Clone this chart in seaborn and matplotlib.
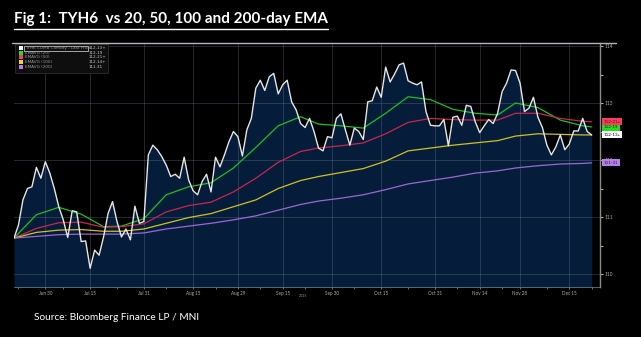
import numpy as np
import pandas as pd
import matplotlib
matplotlib.use("Agg")
import matplotlib.pyplot as plt
import seaborn as sns
from matplotlib.patches import Rectangle
from matplotlib.lines import Line2D

# ---------------- data ----------------
price = [110.63, 110.86, 111.30, 111.50, 111.53, 111.87, 111.68, 111.97, 111.77, 111.50,
         111.18, 110.95, 110.64, 111.11, 111.09, 110.57, 110.58, 110.10, 110.42, 110.33,
         110.65, 111.06, 111.27, 110.92, 110.65, 110.79, 110.60, 111.19, 110.89, 110.92,
         112.09, 112.26, 112.18, 112.06, 111.91, 111.71, 111.75, 111.68, 112.05, 111.65,
         111.46, 111.39, 111.62, 111.75, 111.44, 112.05, 111.88, 112.09, 112.32, 112.50,
         112.41, 112.07, 112.53, 112.73, 113.26, 113.40, 113.22, 113.46, 113.52, 113.16,
         113.32, 113.40, 113.02, 112.88, 112.64, 112.57, 112.73, 112.50, 112.21, 112.16,
         112.41, 112.39, 112.73, 112.81, 112.53, 112.26, 112.56, 112.50, 112.36, 113.02,
         113.04, 113.28, 113.10, 113.63, 113.37, 113.51, 113.67, 113.70, 113.39, 113.35,
         113.32, 113.37, 112.85, 112.61, 112.60, 112.60, 112.71, 112.25, 112.75, 112.77,
         112.61, 112.96, 112.94, 112.67, 112.48, 112.60, 112.71, 112.64, 112.82, 113.20,
         113.35, 113.58, 113.57, 113.35, 112.85, 112.91, 113.10, 112.75, 112.57, 112.26,
         112.09, 112.23, 112.44, 112.18, 112.28, 112.51, 112.51, 112.73, 112.50, 112.44]

holidays = ["2025-07-04", "2025-09-01", "2025-11-27"]
dates = [d for d in pd.bdate_range("2025-06-19", "2025-12-22")
         if d.strftime("%Y-%m-%d") not in holidays]

ema_idx = [0, 5, 10, 15, 20, 24, 29, 34, 39, 44, 49, 54, 59, 64, 68, 73, 78, 83,
           88, 93, 98, 103, 108, 112, 117, 122, 127, 129]
ema20 = [110.63, 111.04, 111.17, 111.05, 110.83, 110.84, 110.97, 111.39, 111.53, 111.60,
         111.86, 112.22, 112.60, 112.76, 112.63, 112.60, 112.56, 112.82, 113.11, 113.06,
         112.89, 112.82, 112.79, 113.00, 112.92, 112.70, 112.60, 112.58]
ema50 = [110.63, 110.80, 110.90, 110.91, 110.82, 110.83, 110.88, 111.09, 111.20, 111.26,
         111.44, 111.68, 111.96, 112.15, 112.21, 112.25, 112.30, 112.46, 112.66, 112.73,
         112.71, 112.70, 112.70, 112.82, 112.82, 112.73, 112.68, 112.67]
ema100 = [110.63, 110.73, 110.77, 110.78, 110.75, 110.75, 110.79, 110.89, 110.99, 111.06,
          111.18, 111.30, 111.50, 111.64, 111.71, 111.78, 111.85, 111.98, 112.16, 112.21,
          112.26, 112.30, 112.34, 112.42, 112.46, 112.45, 112.44, 112.44]
ema200 = [110.63, 110.66, 110.69, 110.70, 110.70, 110.70, 110.72, 110.79, 110.84, 110.89,
          110.95, 111.02, 111.12, 111.22, 111.28, 111.33, 111.39, 111.48, 111.58, 111.64,
          111.70, 111.77, 111.81, 111.86, 111.90, 111.93, 111.94, 111.95]

series_names = ["TYH6 COMB Comdty - Last Price", "EMAVG (20)", "EMAVG (50)",
                "EMAVG (100)", "EMAVG (200)"]
series_last = ["112-13+", "112-19", "112-21+", "112-14+", "111-31"]

tick_dates = ["2025-06-30", "2025-07-15", "2025-07-31", "2025-08-15", "2025-08-29",
              "2025-09-15", "2025-09-30", "2025-10-15", "2025-10-31", "2025-11-14",
              "2025-11-28", "2025-12-15"]
tick_labels = ["Jun 30", "Jul 15", "Jul 31", "Aug 15", "Aug 29", "Sep 15", "Sep 30",
               "Oct 15", "Oct 31", "Nov 14", "Nov 28", "Dec 15"]
minor_dates = ["2025-06-20", "2025-07-07", "2025-07-23", "2025-08-07", "2025-08-22",
               "2025-09-08", "2025-09-22", "2025-10-07", "2025-10-23", "2025-11-07",
               "2025-11-21", "2025-12-08", "2025-12-22"]
y_ticks = [110, 111, 112, 113, 114]
y_labels = ["110", "111", "112", "113", "114"]
title = "Fig 1:  TYH6  vs 20, 50, 100 and 200-day EMA"
source = "Source: Bloomberg Finance LP / MNI"

# ---------------- styling ----------------
sns.set_theme(style="dark")
plt.rcParams["font.family"] = ["Lato", "DejaVu Sans"]

C_PRICE = "#e6e6e6"
C_FILL = "#051d3b"
C_EMA = {"EMAVG (20)": "#1fbf1f", "EMAVG (50)": "#c8264c",
         "EMAVG (100)": "#cfc124", "EMAVG (200)": "#9a68d4"}
TAG_COLORS = ["#ffffff", "#22dd22", "#ff3a5c", "#e8d820", "#b57ee8"]

W, H = 641, 337
def fx(px): return px / W
def fy(py): return 1 - py / H

fig = plt.figure(figsize=(W / 100, H / 100), dpi=100, facecolor="black")
ax = fig.add_axes([fx(14), fy(287), fx(600) - fx(14), fy(43) - fy(287)])
ax.set_facecolor("black")

n = len(price)
pos = np.arange(n)
df_price = pd.DataFrame({"pos": pos, "date": dates, "price": price})

ema_rows = []
for name, vals in zip(series_names[1:], [ema20, ema50, ema100, ema200]):
    for i, v in zip(ema_idx, vals):
        ema_rows.append({"pos": i, "date": dates[i], "value": v, "series": name})
df_ema = pd.DataFrame(ema_rows)

ymin, ymax = 109.772, 114.053
ax.fill_between(df_price["pos"], df_price["price"], ymin, color=C_FILL, lw=0, zorder=1)

# gridlines
for yt in y_ticks:
    ax.axhline(yt, color="#7a8594", alpha=0.35, lw=0.6, zorder=1.5)
tick_pos = [dates.index(pd.Timestamp(d)) for d in tick_dates]
for tp in tick_pos:
    ax.axvline(tp, color="#7a8594", alpha=0.35, lw=0.6, zorder=1.5)

sns.lineplot(data=df_ema, x="pos", y="value", hue="series", palette=C_EMA,
             hue_order=series_names[1:], lw=0.9, ax=ax, legend=False, zorder=3)
sns.lineplot(data=df_price, x="pos", y="price", color=C_PRICE, lw=1.0, ax=ax, zorder=4)

ax.set_xlim(0, 130.86)
ax.set_ylim(ymin, ymax)
ax.set_xlabel("")
ax.set_ylabel("")
ax.grid(False)

# x ticks
ax.set_xticks(tick_pos)
ax.set_xticklabels(tick_labels)
ax.set_xticks([dates.index(pd.Timestamp(d)) for d in minor_dates], minor=True)
ax.tick_params(axis="x", which="both", colors="#9a9a9a", labelsize=3.3, length=1.5,
               width=0.5, pad=1.5, direction="out", bottom=True)
ax.tick_params(axis="x", which="both", labelcolor="#b0b0b0")

# y ticks on right
ax.yaxis.tick_right()
ax.set_yticks(y_ticks)
ax.set_yticklabels(y_labels)
ax.set_yticks([110.5, 111.5, 112.5, 113.5], minor=True)
ax.tick_params(axis="y", which="both", colors="#b0b0b0", labelsize=3.5, length=2,
               width=0.8, pad=1.5, direction="out", right=True, left=False)

for s in ["left", "top"]:
    ax.spines[s].set_visible(False)
ax.spines["right"].set_color("#8a8a8a")
ax.spines["right"].set_linewidth(1.0)
ax.spines["bottom"].set_color("#7c8a9c")
ax.spines["bottom"].set_linewidth(0.5)

# top border line
fig.add_artist(Line2D([fx(12), fx(616)], [fy(43), fy(43)], color="#b4b4b4", lw=1.0))

# right value tags (yellow first so white sits on top)
last_vals = [price[-1], ema20[-1], ema50[-1], ema100[-1], ema200[-1]]
order = [3, 4, 1, 2, 0]
for k in order:
    txt_col = "black" if k in (0, 3) else "#222222"
    ax.annotate(series_last[k], xy=(1.0, last_vals[k]), xycoords=("axes fraction", "data"),
                xytext=(2.5, 0), textcoords="offset points", va="center", ha="left",
                fontsize=3.2, color=txt_col, annotation_clip=False, zorder=10,
                bbox=dict(boxstyle="square,pad=0.35", fc=TAG_COLORS[k], ec="none"))

# legend box (Bloomberg style)
fig.add_artist(Rectangle((fx(15), fy(73)), fx(108) - fx(15), fy(44) - fy(73),
                         facecolor="#0e0e0e", edgecolor="#2c2c2c", lw=0.6))
row_y = [48.2, 52.8, 57.4, 62.0, 66.6]
for k, (nm, val) in enumerate(zip(series_names, series_last)):
    yy = row_y[k]
    fig.add_artist(Rectangle((fx(19), fy(yy + 2)), fx(4), 4 / H,
                             facecolor=TAG_COLORS[k], edgecolor="none"))
    fig.text(fx(25), fy(yy), nm, fontsize=3.0, color="#9a9a9a", va="center", ha="left",
             family=["DejaVu Sans"])
    fig.text(fx(89), fy(yy), val, fontsize=3.0, color="#c8c8c8", va="center", ha="left",
             family=["DejaVu Sans"])
fig.add_artist(Rectangle((fx(24), fy(50.6)), fx(88) - fx(24), 5 / H,
                         facecolor="none", edgecolor="#e0e0e0", lw=0.5))

# year label
fig.text(fx(303), fy(296), "2025", fontsize=2.6, color="#9a9a9a", ha="center", va="center")

# title and source
t = fig.text(fx(14), fy(19), title, fontsize=10, fontweight="bold", color="white",
             ha="left", va="center")
s = fig.text(fx(34), fy(318), source, fontsize=7, color="white", ha="left", va="center")
fig.canvas.draw()
r = fig.canvas.get_renderer()
for obj, target in [(t, 313), (s, 166)]:
    w = obj.get_window_extent(r).width
    obj.set_fontsize(obj.get_fontsize() * target / w)
fig.canvas.draw()
bb = t.get_window_extent(r)
fig.add_artist(Line2D([bb.x0 / W, bb.x1 / W], [fy(28.5), fy(28.5)], color="white", lw=1.0))

fig.savefig("out.png", dpi=100, facecolor="black")
